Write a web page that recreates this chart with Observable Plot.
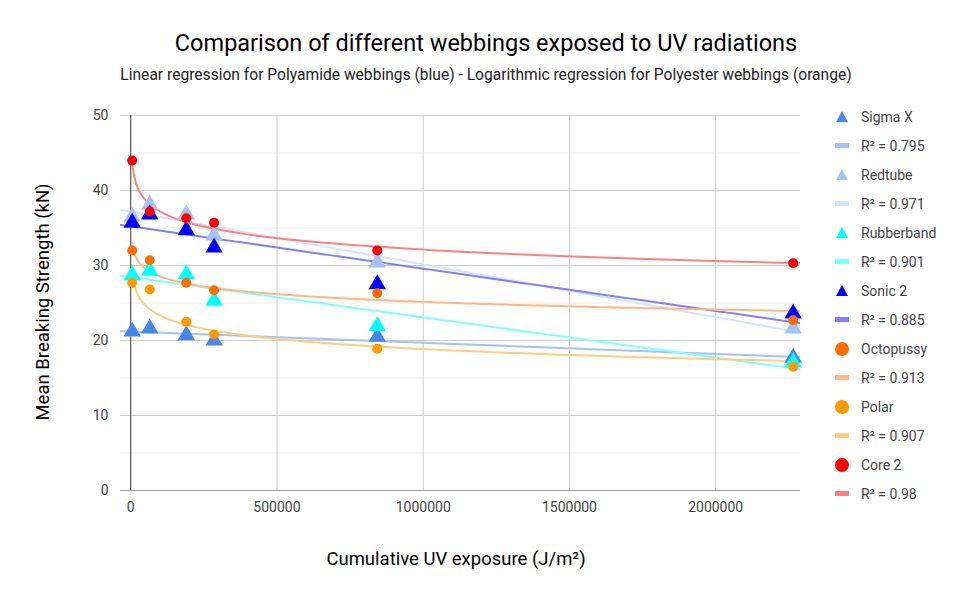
<!DOCTYPE html>
<html><head><meta charset="utf-8">
<script src="https://cdn.jsdelivr.net/npm/d3@7"></script>
<script src="https://cdn.jsdelivr.net/npm/@observablehq/plot@0.6"></script>
<style>
body{margin:0;background:#fff;font-family:Roboto,Arial,sans-serif;width:972px;height:602px;position:relative;overflow:hidden}
#title{position:absolute;top:29px;left:0;width:972px;text-align:center;font-size:23.5px;color:#000}
#sub{position:absolute;top:66px;left:0;width:972px;text-align:center;font-size:15.6px;color:#222}
#chart{position:absolute;top:95px;left:0}
#legend{position:absolute;left:835px;top:102px;font-size:14px;color:#444}
.li{height:29px;display:flex;align-items:center}
.sw{width:14px;margin-right:12px;display:inline-flex;justify-content:center}
#xl{position:absolute;top:548px;left:0;width:912px;text-align:center;font-size:18.5px;color:#000}
#yl{position:absolute;left:43px;top:302px;transform:translate(-50%,-50%) rotate(-90deg);font-size:18.5px;white-space:nowrap}
</style></head><body>
<div id="title">Comparison of different webbings exposed to UV radiations</div>
<div id="sub">Linear regression for Polyamide webbings (blue) - Logarithmic regression for Polyester webbings (orange)</div>
<div id="chart"></div>
<div id="legend"></div>
<div id="xl">Cumulative UV exposure (J/m²)</div>
<div id="yl">Mean Breaking Strength (kN)</div>
<script>
const exposure = [5000, 65000, 190000, 285000, 843000, 2265000];
const seriesNames = ["Sigma X","Redtube","Rubberband","Sonic 2","Octopussy","Polar","Core 2"];
const sigmaX     = [21.2, 21.6, 20.7, 20.0, 20.5, 17.7];
const redtube    = [36.5, 38.1, 36.8, 34.0, 30.4, 21.6];
const rubberband = [28.7, 29.3, 28.8, 25.3, 21.9, 17.1];
const sonic2     = [35.7, 36.8, 34.7, 32.4, 27.5, 23.6];
const octopussy  = [32.0, 30.7, 27.7, 26.7, 26.3, 22.7];
const polar      = [27.7, 26.8, 22.5, 20.8, 18.9, 16.5];
const core2      = [44.0, 37.2, 36.3, 35.7, 32.0, 30.3];
const r2Labels = ["R² = 0.795","R² = 0.971","R² = 0.901","R² = 0.885","R² = 0.913","R² = 0.907","R² = 0.98"];
const colors = ["#4a86e8","#a4c2f4","#00ffff","#0000ff","#ff6d01","#ff9900","#ff0000"];
const lineColors = ["#a4c2f4","#d6e4fb","#80ffff","#8080ff","#ffb680","#ffcc80","#ff8080"];
const regType = ["lin","lin","lin","lin","log","log","log"];
const symbols = ["triangle","triangle","triangle","triangle","circle","circle","circle"];
const values = [sigmaX, redtube, rubberband, sonic2, octopussy, polar, core2];

const points = [];
values.forEach((vals,i)=>vals.forEach((v,j)=>points.push({s:i,x:exposure[j],y:v})));
const tris = points.filter(d=>symbols[d.s]==="triangle");
const circs = points.filter(d=>symbols[d.s]==="circle");

function fit(xs, ys){
  const mx=d3.mean(xs), my=d3.mean(ys);
  const b=d3.sum(xs,(x,k)=>(x-mx)*(ys[k]-my))/d3.sum(xs,x=>(x-mx)**2);
  return [my-b*mx,b];
}
const xMin=-35000, xMax=2290000;
const lines=[];
values.forEach((vals,i)=>{
  if(regType[i]==="lin"){
    const [a,b]=fit(exposure,vals);
    d3.range(0,201).map(k=>xMin+(xMax-xMin)*k/200).forEach(x=>lines.push({s:i,x,y:a+b*x}));
  } else {
    const [a,b]=fit(exposure.map(Math.log),vals);
    d3.range(0,401).map(k=>Math.exp(Math.log(exposure[0])+(Math.log(xMax)-Math.log(exposure[0]))*k/400)).forEach(x=>lines.push({s:i,x,y:a+b*Math.log(x)}));
  }
});

const plot = Plot.plot({
  width:972, height:505,
  marginLeft:120, marginRight:172, marginTop:20, marginBottom:110,
  style:{fontFamily:"Roboto, Arial, sans-serif", fontSize:"14px", color:"#444", background:"transparent"},
  x:{domain:[xMin,xMax], label:null},
  y:{domain:[0,50], label:null},
  marks:[
    Plot.ruleY(d3.range(5,50,10),{stroke:"#ebebeb"}),
    Plot.ruleY([10,20,30,40,50],{stroke:"#cccccc"}),
    Plot.ruleX([500000,1000000,1500000,2000000],{stroke:"#cccccc"}),
    Plot.ruleY([0],{stroke:"#999"}),
    Plot.ruleX([0],{stroke:"#333"}),
    Plot.line(lines,{x:"x",y:"y",z:"s",stroke:d=>lineColors[d.s],strokeWidth:2,clip:true}),
    Plot.dot(tris,{x:"x",y:"y",symbol:"triangle",fill:d=>colors[d.s],r:6.5}),
    Plot.dot(circs,{x:"x",y:"y",symbol:"circle",fill:d=>colors[d.s],r:5}),
    Plot.axisX({ticks:[0,500000,1000000,1500000,2000000],tickFormat:d=>String(d),tickSize:0,tickPadding:12,label:null}),
    Plot.axisY({ticks:[0,10,20,30,40,50],tickSize:0,tickPadding:12,label:null})
  ]
});
document.getElementById("chart").appendChild(plot);

const lg=document.getElementById("legend");
seriesNames.forEach((n,i)=>{
  const tri=`<svg width="12" height="11"><polygon points="6,0 12,11 0,11" fill="${colors[i]}"/></svg>`;
  const cir=`<svg width="14" height="14"><circle cx="7" cy="7" r="7" fill="${colors[i]}"/></svg>`;
  lg.innerHTML+=`<div class="li"><span class="sw">${symbols[i]==="triangle"?tri:cir}</span>${n}</div>`;
  lg.innerHTML+=`<div class="li"><span class="sw"><svg width="14" height="6"><rect width="14" height="5" fill="${lineColors[i]}"/></svg></span>${r2Labels[i]}</div>`;
});
</script></body></html>
